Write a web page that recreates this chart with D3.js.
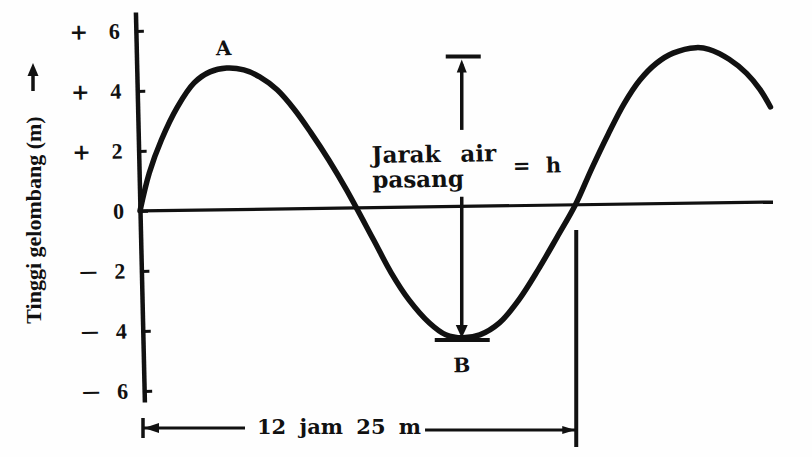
<!DOCTYPE html>
<html>
<head>
<meta charset="utf-8">
<script src="https://cdn.jsdelivr.net/npm/d3@7"></script>
<style>
  body { margin: 0; background: #fff; }
  svg text { font-weight: bold; fill: #111; }
</style>
</head>
<body>
<div id="chart"></div>
<script>
// tide curve: time (hours) and height (m)
const hours = [0, 0.29, 0.66, 1.14, 1.63, 2.09, 2.57, 3.06, 3.51, 4.0, 4.49, 4.94, 5.43, 5.91,
  6.66, 7.14, 7.63, 8.2, 8.66, 9.14, 9.63, 10.2, 10.77, 11.34, 11.91, 12.45,
  12.94, 13.43, 13.91, 14.37, 14.86, 15.34, 16.0, 16.37, 16.94, 17.43, 17.8, 18.09];
const heights = [0, 1.26, 2.36, 3.45, 4.24, 4.6, 4.72, 4.65, 4.41, 3.97, 3.29, 2.52, 1.61, 0.62,
  -1.08, -2.18, -3.09, -3.87, -4.27, -4.38, -4.29, -3.9, -3.14, -2.15, -1.06, 0,
  1.2, 2.33, 3.35, 4.12, 4.68, 5.01, 5.18, 5.12, 4.78, 4.3, 3.76, 3.17];
const yTicks = [-6, -4, -2, 0, 2, 4, 6];

// annotations
const pointLabels = [
  { name: "A", t: 2.5, v: 5.15 },
  { name: "B", t: 9.1, v: -5.52 }
];
const periodHours = 12 + 25 / 60;   // 12 jam 25 m
const periodText = "12 jam 25 m";
const rangeTime = 9.2;              // where the "h" arrow stands
const highWater = 5.0;
const lowWater = -4.45;

const W = 812, H = 457;
const svg = d3.select("#chart").append("svg")
  .attr("width", W)
  .attr("height", H);

svg.append("rect").attr("width", W).attr("height", H).attr("fill", "#fefefe");

const x = d3.scaleLinear().domain([0, 18.1]).range([140, 773]);
const y = d3.scaleLinear().domain([-6.37, 6.63]).range([402, 12]);

// the scanned figure is a little skewed
const sx = 0.023, sy = 0.014;
const ox = x(0), oy = y(0);
const plot = svg.append("g")
  .attr("transform", `matrix(1, ${-sy}, ${sx}, 1, ${-sx * oy}, ${sy * ox})`);
const ink = "#111";

// zero line
plot.append("line")
  .attr("x1", x(0)).attr("x2", x(18.1))
  .attr("y1", y(0)).attr("y2", y(0))
  .attr("stroke", ink)
  .attr("stroke-width", 3.2);

// y axis
const axis = plot.append("g")
  .attr("transform", `translate(${x(0)},0)`)
  .call(d3.axisLeft(y)
    .tickValues(yTicks)
    .tickSizeInner(-8)
    .tickSizeOuter(0)
    .tickPadding(16)
    .tickFormat(d => Math.abs(d)));

axis.select(".domain").attr("stroke", ink).attr("stroke-width", 4.5);
axis.selectAll(".tick line").attr("stroke", ink).attr("stroke-width", 3);
axis.selectAll(".tick text")
  .attr("font-family", "'Liberation Serif', serif")
  .attr("font-size", "22px")
  .attr("fill", ink);

axis.selectAll(".tick").filter(d => d !== 0)
  .append("text")
  .attr("x", d => d > 0 ? -57 : -53)
  .attr("dy", d => d > 0 ? "0.34em" : "0.3em")
  .attr("text-anchor", "middle")
  .attr("font-family", "'DejaVu Serif', serif")
  .attr("font-size", d => d > 0 ? "22px" : "18px")
  .attr("fill", ink)
  .text(d => d > 0 ? "+" : "\u2014");

// tide curve
const line = d3.line()
  .x((d, i) => x(hours[i]))
  .y(d => y(d))
  .curve(d3.curveCatmullRom.alpha(0.5));

plot.append("path")
  .attr("d", line(heights))
  .attr("fill", "none")
  .attr("stroke", ink)
  .attr("stroke-width", 5.5)
  .attr("stroke-linecap", "round")
  .attr("stroke-linejoin", "round");

// A and B
plot.selectAll(".pt-label")
  .data(pointLabels)
  .enter()
  .append("text")
  .attr("class", "pt-label")
  .attr("x", d => x(d.t))
  .attr("y", d => y(d.v))
  .attr("text-anchor", "middle")
  .attr("font-family", "'DejaVu Serif', serif")
  .attr("font-size", "20px")
  .text(d => d.name);

const annot = plot.append("g")
  .attr("font-family", "'DejaVu Serif', serif")
  .attr("font-size", "23px");
annot.append("text")
  .attr("x", x(6.66)).attr("y", y(1.49))
  .attr("word-spacing", "12px")
  .text("Jarak air");
annot.append("text")
  .attr("x", x(6.66)).attr("y", y(0.66))
  .text("pasang");
annot.append("text")
  .attr("x", x(10.69)).attr("y", y(1.09))
  .attr("font-size", "21px")
  .attr("word-spacing", "8px")
  .text("= h");

// h arrow between high water and low water (only tilted, kept upright)
const hx = x(rangeTime);
const hy = v => y(v) - sy * (hx - ox);
const harrow = svg.append("g");
harrow.append("line")
  .attr("x1", hx - 16).attr("x2", hx + 19)
  .attr("y1", hy(highWater)).attr("y2", hy(highWater))
  .attr("stroke", ink).attr("stroke-width", 4);
harrow.append("line")
  .attr("x1", hx).attr("x2", hx)
  .attr("y1", hy(highWater) + 8).attr("y2", hy(2.55))
  .attr("stroke", ink).attr("stroke-width", 3.5);
harrow.append("path")
  .attr("d", `M${hx - 5},${hy(highWater) + 16} L${hx},${hy(highWater) + 3} L${hx + 5},${hy(highWater) + 16} Z`)
  .attr("fill", ink);
harrow.append("line")
  .attr("x1", hx - 27).attr("x2", hx + 28)
  .attr("y1", hy(lowWater)).attr("y2", hy(lowWater))
  .attr("stroke", ink).attr("stroke-width", 4);
harrow.append("line")
  .attr("x1", hx).attr("x2", hx)
  .attr("y1", hy(0.32)).attr("y2", hy(lowWater) - 8)
  .attr("stroke", ink).attr("stroke-width", 3.5);
harrow.append("path")
  .attr("d", `M${hx - 6},${hy(lowWater) - 15} L${hx},${hy(lowWater) - 2} L${hx + 6},${hy(lowWater) - 15} Z`)
  .attr("fill", ink);

// y axis title with its arrow
svg.append("text")
  .attr("transform", "translate(41,220) rotate(-90)")
  .attr("text-anchor", "middle")
  .attr("font-family", "'Liberation Serif', serif")
  .attr("font-size", "22px")
  .text("Tinggi gelombang (m)");
svg.append("line")
  .attr("x1", 33).attr("x2", 33)
  .attr("y1", 91).attr("y2", 72)
  .attr("stroke", ink).attr("stroke-width", 3.5);
svg.append("path")
  .attr("d", "M27.5,76 L33,63 L38.5,76 Z")
  .attr("fill", ink);

// period dimension along the bottom
const dimY = 429;
const px0 = x(0) + 3, px1 = x(periodHours) + 2;
svg.append("line")
  .attr("x1", px0).attr("x2", px0)
  .attr("y1", dimY - 11).attr("y2", dimY + 9)
  .attr("stroke", ink).attr("stroke-width", 3.5);
svg.append("line")
  .attr("x1", px1).attr("x2", px1)
  .attr("y1", 230).attr("y2", 447)
  .attr("stroke", ink).attr("stroke-width", 4);

const pText = svg.append("text")
  .attr("x", 257)
  .attr("y", dimY + 5)
  .attr("font-family", "'DejaVu Serif', serif")
  .attr("font-size", "21px")
  .attr("word-spacing", "6px")
  .text(periodText);
const bb = pText.node().getBBox();

svg.append("line")
  .attr("x1", px0).attr("x2", bb.x - 12)
  .attr("y1", dimY - 1).attr("y2", dimY - 1)
  .attr("stroke", ink).attr("stroke-width", 3);
svg.append("line")
  .attr("x1", bb.x + bb.width + 4).attr("x2", px1)
  .attr("y1", dimY + 1).attr("y2", dimY + 1)
  .attr("stroke", ink).attr("stroke-width", 3);
svg.append("path")
  .attr("d", `M${px0 + 1},${dimY - 1} L${px0 + 16},${dimY - 6} L${px0 + 16},${dimY + 4} Z`)
  .attr("fill", ink);
svg.append("path")
  .attr("d", `M${px1 - 1},${dimY + 1} L${px1 - 14},${dimY - 3} L${px1 - 14},${dimY + 5} Z`)
  .attr("fill", ink);
</script>
</body>
</html>
